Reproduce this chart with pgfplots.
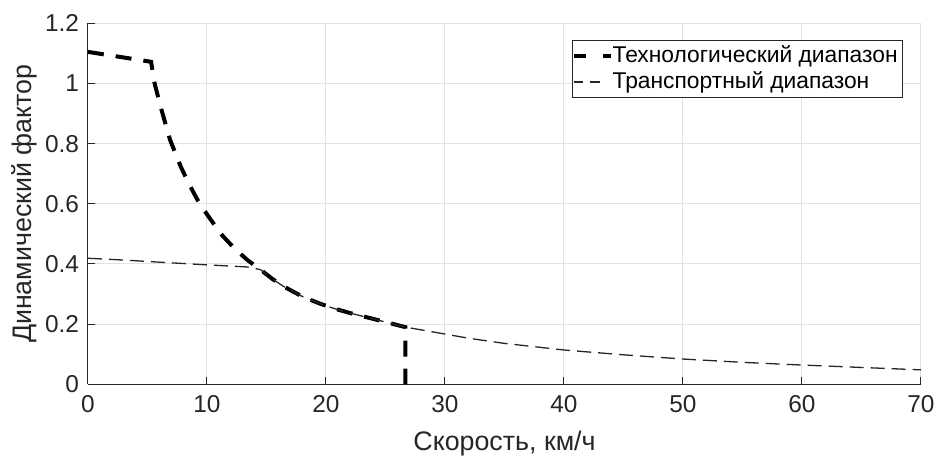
\documentclass[border=0pt]{standalone}
\usepackage{pgfplots}
\pgfplotsset{compat=1.18}
\usepackage{fontspec}
\setmainfont{Liberation Sans}

\definecolor{axgray}{RGB}{38,38,38}
\definecolor{gridgray}{RGB}{225,225,225}

\begin{document}
\begin{tikzpicture}
% fixed page frame around the axis box (axis box lower left at origin)
\path[use as bounding box] (-44pt,-35.35pt) rectangle (424pt,192.15pt);
\begin{axis}[
  scale only axis,
  width=416.5pt, height=180.5pt,
  xmin=0, xmax=70, ymin=0, ymax=1.2,
  xtick={0,10,...,70},
  ytick={0,0.2,...,1.2},
  axis x line*=bottom, axis y line*=left,
  axis line style={axgray, line width=0.5pt, -},
  tick style={axgray, line width=0.5pt},
  tick align=inside,
  major tick length=3.5pt,
  grid=major,
  major grid style={gridgray, line width=0.5pt},
  /pgf/number format/assume math mode=true,
  ticklabel style={font=\fontsize{12.2}{14.5}\selectfont, text=axgray},
  xticklabel style={yshift=-2pt},
  yticklabel style={xshift=-1pt},
  xlabel={Скорость, км/ч},
  ylabel={Динамический фактор},
  every axis x label/.style={at={(axis description cs:0.5,0)}, anchor=base,
    yshift=-33pt, font=\fontsize{13.4}{16}\selectfont, text=axgray},
  every axis y label/.style={at={(axis description cs:0,0.5)}, xshift=-22pt,
    rotate=90, anchor=south, font=\fontsize{13.4}{16}\selectfont, text=axgray},
  legend style={
    at={(rel axis cs:0.9788,0.9537)}, anchor=north east,
    draw=axgray, line width=0.5pt, fill=white,
    font=\fontsize{11.4}{13.5}\selectfont,
    inner sep=1pt, row sep=0pt,
    nodes={inner sep=1.6pt},
  },
  legend cell align=left,
  % sample line reaches a little into the gap before the entry text
  legend image code/.code={%
    \draw[#1, overlay] (0pt,0pt) -- (18.5pt,0pt);
    \path[draw=none, fill=none] (0pt,-2pt) rectangle (17.5pt,2pt);},
  clip=false,
]
% technological range
\addplot[black, line width=2pt, dash pattern=on 8pt off 6pt,
  legend image post style={dash pattern=on 6pt off 8.5pt on 4pt off 10pt}] coordinates {
  (0,1.105) (5.3,1.072) (5.6,1.00) (6.1,0.923) (6.9,0.812) (7.8,0.723)
  (8.5,0.665) (9.2,0.613) (10.0,0.565) (10.5,0.537) (11.3,0.494)
  (12.3,0.452) (13.4,0.413) (14.5,0.381) (15.5,0.350) (16.4,0.326)
  (18.0,0.292) (19.5,0.268) (20.6,0.253) (22.0,0.237) (23.5,0.222)
  (25.0,0.207) (26.67,0.190) (26.67,0)
};
\addlegendentry{Технологический диапазон}
% transport range
\addplot[black!85, line width=0.65pt, dash pattern=on 7pt off 3.5pt,
  legend image post style={dash pattern=on 4.5pt off 3.5pt on 5pt off 10pt}] coordinates {
  (0,0.419) (3,0.413) (6,0.406) (10,0.397) (12,0.393) (13.4,0.390)
  (14.5,0.381) (15.5,0.350) (16.4,0.326) (18.0,0.292) (19.5,0.268)
  (20.6,0.253) (22.0,0.237) (23.5,0.222) (25.0,0.207) (26.67,0.190)
  (28,0.181) (30,0.167) (32,0.153) (35,0.136) (40,0.114) (45,0.098)
  (50,0.084) (55,0.073) (60,0.064) (65,0.056) (70,0.048)
};
\addlegendentry{Транспортный диапазон}
\end{axis}
\end{tikzpicture}
\end{document}
